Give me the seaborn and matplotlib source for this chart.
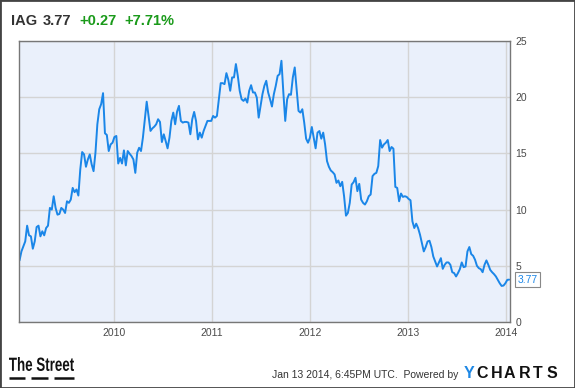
import numpy as np
import pandas as pd
import matplotlib
matplotlib.use("Agg")
import matplotlib.pyplot as plt
import matplotlib.dates as mdates
from matplotlib.textpath import TextPath
from matplotlib.patches import PathPatch
from matplotlib.font_manager import FontProperties
from matplotlib.transforms import Affine2D
import seaborn as sns

sns.set_style("white")
plt.rcParams['font.family'] = ['Liberation Sans', 'DejaVu Sans']

# weekly closes, split by stretch
seg_2009 = [5.48, 6.28, 6.73, 7.17, 8.57, 7.71, 7.62, 6.52, 7.17, 8.45, 8.57, 7.62, 8.07, 7.71,
            8.36, 8.57, 10.15, 10.0, 11.19, 10.15, 9.55, 9.61, 10.15, 10.0, 9.70, 10.74, 10.6,
            10.89, 11.93, 11.55, 11.79, 11.25, 13.57, 15.12, 14.91, 13.81, 14.46, 14.91, 14.02,
            13.42, 15.06, 17.59, 18.93, 19.38, 20.36, 16.79, 16.64, 15.21, 15.8, 15.95, 16.46,
            16.55, 14.1, 14.6, 14.1, 15.27, 13.93, 15.21, 14.97, 14.76, 14.46, 13.27, 15.06,
            15.5, 15.21, 16.4]
seg_2010 = [18.04, 19.6, 18.33, 17.0, 17.23, 17.38, 17.59, 18.04, 17.8, 16.01, 16.7, 16.1,
            15.45, 16.4, 17.89, 18.63, 17.59, 18.72, 19.23, 17.89, 17.74, 17.8, 17.8, 17.74,
            16.7, 18.04, 18.69, 17.89, 16.25, 16.85, 16.4, 17.0, 17.44, 17.89, 17.89, 17.89,
            18.33, 18.18, 18.33, 19.82, 21.25, 21.25, 21.16, 22.14, 21.55, 20.57, 21.76, 21.76,
            22.95, 21.9, 20.57, 19.82, 19.67, 19.88, 19.52, 20.57, 21.07, 20.42, 20.42, 19.97,
            18.18, 19.23, 20.27, 21.01, 21.46, 20.42]
seg_2011 = [19.82, 19.17, 20.27, 21.01, 21.9, 22.05, 23.24, 20.42, 17.89, 19.82, 20.27, 20.21,
            21.76, 22.65, 20.71, 18.78, 18.63, 18.93, 17.74, 16.31, 15.95, 16.4, 17.35, 16.4,
            15.45, 16.85, 16.99, 16.31, 16.85, 15.8, 14.32, 13.81, 13.48, 13.33, 13.13, 12.38,
            12.59, 12.08, 12.47, 11.19, 9.46, 9.7, 10.6, 12.23, 12.44, 12.83, 11.64, 12.29,
            10.89, 10.6, 10.45, 10.74, 11.19, 11.34, 12.98, 13.18, 13.27, 13.87, 16.19, 15.51,
            15.8, 15.95, 16.19, 15.21, 15.57, 15.42]
seg_2013 = [12.02, 11.93, 10.74, 11.43, 11.13, 11.19, 11.13, 10.95, 10.83, 8.96, 8.36, 8.75,
            8.36, 7.77, 7.02, 6.28, 6.67, 7.17, 7.23, 6.67, 5.83, 5.39, 4.94, 5.3, 5.68, 4.73,
            5.09, 5.3, 5.3, 5.09, 4.43, 4.35, 4.05, 4.35, 4.7, 5.3, 4.88, 4.94, 6.28, 6.67, 6.04,
            5.89, 5.54, 5.0, 4.79, 4.7, 4.43, 5.09, 5.48, 5.09, 4.64, 4.43, 4.26, 4.05, 3.75,
            3.45, 3.21, 3.24, 3.45, 3.75, 3.77]

prices = seg_2009 + seg_2010 + seg_2011 + seg_2013
dates = pd.date_range("2009-01-12", "2014-01-13", periods=len(prices))
df = pd.DataFrame({"date": dates, "price": prices})

ticker = "IAG"
last = "3.77"
change = "+0.27"
pct = "+7.71%"

line_col = "#1a86e8"

fig = plt.figure(figsize=(5.75, 3.88), dpi=100)
ax = fig.add_axes([19/575, 1 - 322/388, 491/575, 281/388])

sns.lineplot(data=df, x="date", y="price", ax=ax, color=line_col, linewidth=1.4)

ax.set_facecolor("#eaf0fb")
ax.set_ylim(0, 25)
ax.set_xlim(pd.Timestamp("2009-01-10"), pd.Timestamp("2014-01-16"))
ax.set_yticks([0, 5, 10, 15, 20, 25])
ax.yaxis.tick_right()
ax.xaxis.set_major_locator(mdates.YearLocator())
ax.xaxis.set_major_formatter(mdates.DateFormatter("%Y"))
ax.grid(True, color="#d4d4d4", linewidth=1)
ax.tick_params(length=0, labelsize=7.5, labelcolor="#4a4a4a", pad=4)
ax.set_xlabel("")
ax.set_ylabel("")
for s in ax.spines.values():
    s.set_color("#777777")
    s.set_linewidth(1)

ax.annotate(last, xy=(df["date"].iloc[-1], prices[-1]), xytext=(6, 0),
            textcoords="offset points", va="center", ha="left", fontsize=7.5,
            color=line_col, annotation_clip=False,
            bbox=dict(boxstyle="square,pad=0.25", fc="white", ec="#888888", lw=0.8))

# header
fig.text(10.5/575, 1 - 21/388, ticker, fontsize=10.5, fontweight="bold", color="#333333", va="center")
fig.text(43/575, 1 - 21/388, last, fontsize=10.5, fontweight="bold", color="#333333", va="center")
fig.text(79/575, 1 - 21/388, change, fontsize=10.5, fontweight="bold", color="#1a9a1a", va="center")
fig.text(124/575, 1 - 21/388, pct, fontsize=10.5, fontweight="bold", color="#1a9a1a", va="center")

# footer: condensed "The Street" logo drawn as a squeezed text path
px = Affine2D().scale(1/575, 1/388) + fig.transFigure
tp = TextPath((0, 0), "The Street", size=1, prop=FontProperties(family="Liberation Sans", weight="bold"))
bb = tp.get_extents()
sx, sy = 65 / bb.width, 14 / bb.height
logo_tr = Affine2D().translate(-bb.x0, -bb.y0).scale(sx, sy).translate(9, 388 - 371) + px
fig.add_artist(PathPatch(tp, transform=logo_tr, fc="#111111", ec="none"))
for x0, x1 in [(9, 25), (31, 48), (54, 74)]:
    fig.add_artist(plt.Line2D([x0/575, x1/575], [1 - 377.5/388] * 2, color="#111111", lw=1.8,
                              solid_capstyle="butt"))

fig.text(458/575, 1 - 375/388, "Jan 13 2014, 6:45PM UTC.  Powered by", fontsize=7.5,
         color="#333333", va="center", ha="right")
fig.text(469/575, 1 - 373/388, "Y", fontsize=11.5, fontweight="bold", color="#1e88e5",
         va="center", ha="center")
for cx, ch in zip([482, 496.5, 509.5, 525, 537.5, 551.5], "CHARTS"):
    fig.text(cx/575, 1 - 373/388, ch, fontsize=11.5, fontweight="bold",
             color="#111111", va="center", ha="center")

fig.add_artist(plt.Rectangle((0, 0), 1, 1, transform=fig.transFigure, fill=False,
                             ec="#444444", lw=2))

fig.savefig("out.png", dpi=100)
